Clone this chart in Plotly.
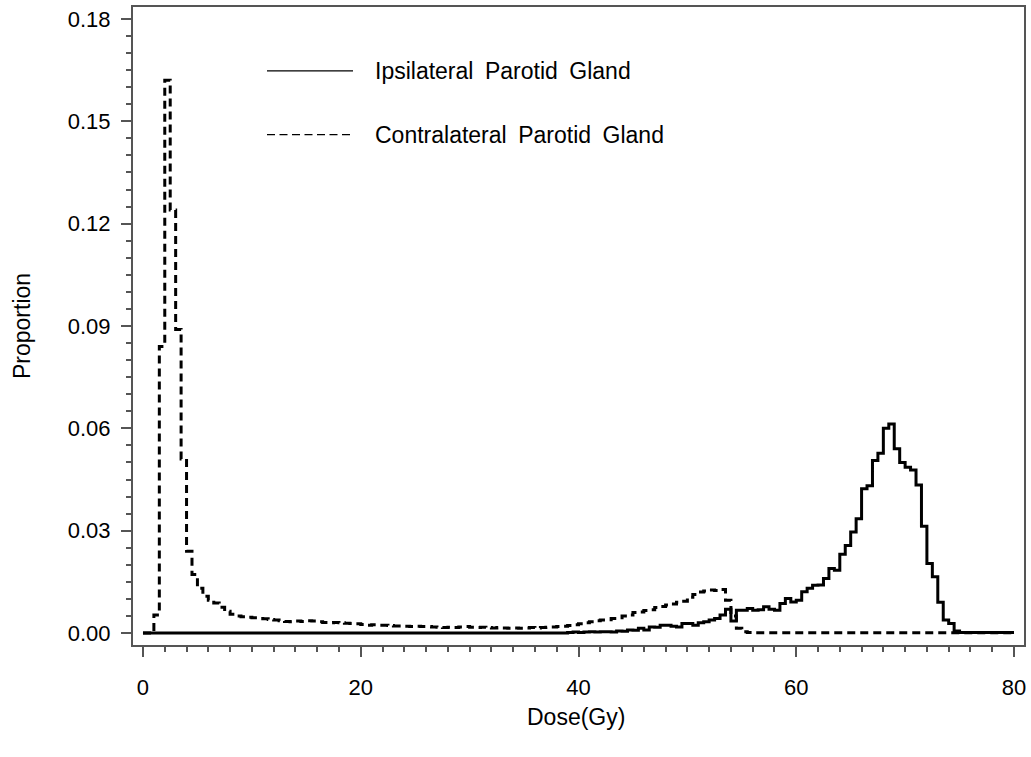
import plotly.graph_objects as go

# Bin width 0.5 Gy, bins from 0 to 80 Gy (left edges)
bin_width = 0.5
edges = [i * bin_width for i in range(161)]

# Contralateral parotid gland (dashed) - proportion per bin
contra = [
    0.0, 0.0, 0.0053, 0.084, 0.162, 0.124, 0.089, 0.051, 0.024, 0.0172,
    0.0131, 0.0108, 0.0096, 0.0088, 0.0076, 0.0064, 0.0055, 0.0050, 0.0048, 0.0046,
    0.0045, 0.0043, 0.0042, 0.0040, 0.0038, 0.0036, 0.0034, 0.0033, 0.0035, 0.0034,
    0.0036, 0.0035, 0.0033, 0.0031, 0.0030, 0.0031, 0.0030, 0.0029, 0.0028, 0.0027,
    0.0025, 0.0023, 0.0024, 0.0023, 0.0023, 0.0022, 0.0021, 0.0021, 0.0020, 0.0019,
    0.0020, 0.0019, 0.0019, 0.0018, 0.0017, 0.0016, 0.0017, 0.0016, 0.0018, 0.0019,
    0.0017, 0.0016, 0.0017, 0.0016, 0.0015, 0.0016, 0.0015, 0.0014, 0.0015, 0.0014,
    0.0015, 0.0016, 0.0015, 0.0016, 0.0017, 0.0018, 0.0019, 0.0020, 0.0022, 0.0024,
    0.0027, 0.0030, 0.0033, 0.0036, 0.0038, 0.0039, 0.0043, 0.0045, 0.0050, 0.0053,
    0.0060, 0.0062, 0.0066, 0.0068, 0.0075, 0.0078, 0.0082, 0.0085, 0.0090, 0.0093,
    0.0105, 0.0113, 0.0120, 0.0123, 0.0126, 0.0125, 0.0128, 0.0096, 0.0050, 0.0014,
    0.0004, 0.0002, 0.0001, 0.0001, 0.0001, 0.0001, 0.0001, 0.0001, 0.0001, 0.0001,
    0.0001, 0.0001, 0.0001, 0.0001, 0.0001, 0.0001, 0.0001, 0.0001, 0.0001, 0.0001,
    0.0001, 0.0001, 0.0001, 0.0001, 0.0001, 0.0001, 0.0001, 0.0001, 0.0001, 0.0001,
    0.0001, 0.0001, 0.0001, 0.0001, 0.0001, 0.0001, 0.0001, 0.0001, 0.0001, 0.0001,
    0.0001, 0.0001, 0.0001, 0.0001, 0.0001, 0.0001, 0.0001, 0.0001, 0.0001, 0.0001,
]

# Ipsilateral parotid gland (solid) - proportion per bin
ipsi = [0.0] * 78 + [
    0.0002, 0.0003,                                   # 39.0, 39.5
    0.0002, 0.0003, 0.0004, 0.0003, 0.0004, 0.0004,   # 40.0 - 42.5
    0.0003, 0.0006, 0.0005, 0.0009,                   # 43.0 - 44.5
    0.0008, 0.0014, 0.0009, 0.0018, 0.0017, 0.0023,   # 45.0 - 47.5
    0.0023, 0.0020, 0.0018, 0.0028, 0.0028, 0.0023,   # 48.0 - 50.5
    0.0030, 0.0033, 0.0038, 0.0043, 0.0053, 0.0070,   # 51.0 - 53.5
    0.0035, 0.0067, 0.0067, 0.0072, 0.0067, 0.0068,   # 54.0 - 56.5
    0.0077, 0.0070, 0.0067, 0.0087, 0.0101, 0.0091,   # 57.0 - 59.5
    0.0096, 0.0121, 0.0131, 0.0140, 0.0141, 0.0160,   # 60.0 - 62.5
    0.0189, 0.0184, 0.0231, 0.0257, 0.0296, 0.0335,   # 63.0 - 65.5
    0.0423, 0.0432, 0.0506, 0.0527, 0.0600, 0.0613,   # 66.0 - 68.5
    0.0540, 0.0500, 0.0486, 0.0478, 0.0434, 0.0313,   # 69.0 - 71.5
    0.0204, 0.0165, 0.0090, 0.0038, 0.0028, 0.0006,   # 72.0 - 74.5
    0.0002, 0.0002, 0.0002, 0.0002, 0.0002, 0.0002,   # 75.0 - 77.5
    0.0002, 0.0002, 0.0002, 0.0002,                   # 78.0 - 79.5
]

y_ticks = [0.00, 0.03, 0.06, 0.09, 0.12, 0.15, 0.18]
x_ticks = [0, 20, 40, 60, 80]
legend_labels = ["Ipsilateral\u2002Parotid\u2002Gland",
                 "Contralateral\u2002Parotid\u2002Gland"]

FONT = "Liberation Sans, Arial, Helvetica, sans-serif"
AX = "#555555"

fig = go.Figure()
fig.add_trace(go.Scatter(
    x=edges, y=contra + [contra[-1]], mode="lines",
    line=dict(shape="hv", color="black", width=3, dash="8px,5px"),
    showlegend=False, hoverinfo="skip"))
fig.add_trace(go.Scatter(
    x=edges, y=ipsi + [ipsi[-1]], mode="lines",
    line=dict(shape="hv", color="black", width=3),
    showlegend=False, hoverinfo="skip"))

L, R, T, B = 133, 7, 5, 112
W, H = 1031, 757
pw, ph = W - L - R, H - T - B

def px(xp):
    return (xp - L) / pw

def py(yp):
    return (H - B - yp) / ph

# custom legend
for yy, dash, lab in [(69, "solid", legend_labels[0]), (133, "8px,4.5px", legend_labels[1])]:
    fig.add_shape(type="line", xref="paper", yref="paper",
                  x0=px(267), x1=px(353), y0=py(yy), y1=py(yy),
                  line=dict(color="black", width=1.3, dash=dash))
    fig.add_annotation(xref="paper", yref="paper", x=px(373), y=py(yy),
                       text=lab, showarrow=False, xanchor="left", yanchor="middle",
                       font=dict(family=FONT, size=23, color="black"))

# axis titles
fig.add_annotation(xref="paper", yref="paper", x=px(576), y=py(717),
                   text="Dose(Gy)", showarrow=False, xanchor="center", yanchor="middle",
                   font=dict(family=FONT, size=23, color="black"))
fig.add_annotation(xref="paper", yref="paper", x=px(22), y=py(325),
                   text="Proportion", showarrow=False, textangle=-90,
                   xanchor="center", yanchor="middle",
                   font=dict(family=FONT, size=23, color="black"))

fig.update_layout(
    width=W, height=H,
    margin=dict(l=L, r=R, t=T, b=B),
    paper_bgcolor="white", plot_bgcolor="white",
    font=dict(family=FONT, size=22, color="black"),
    showlegend=False,
)
fig.update_xaxes(
    range=[-0.918, 80.918], tickvals=x_ticks, ticktext=[str(v) for v in x_ticks],
    showgrid=False, zeroline=False, showline=True, linecolor=AX, linewidth=2,
    mirror=True, ticks="outside", ticklen=10, tickwidth=1.5, tickcolor=AX,
    ticklabelstandoff=12,
    minor=dict(dtick=2, tick0=0, ticks="outside", ticklen=5, tickwidth=1.5, tickcolor=AX, showgrid=False),
)
fig.update_yaxes(
    range=[-0.0035, 0.1835], tickvals=y_ticks, ticktext=[f"{v:.2f}" for v in y_ticks],
    showgrid=False, zeroline=False, showline=True, linecolor=AX, linewidth=2,
    mirror=True, ticks="outside", ticklen=10, tickwidth=1.5, tickcolor=AX,
    ticklabelstandoff=6,
    minor=dict(dtick=0.005, tick0=0, ticks="outside", ticklen=5, tickwidth=1.5, tickcolor=AX, showgrid=False),
)

fig.write_html("out.html")
